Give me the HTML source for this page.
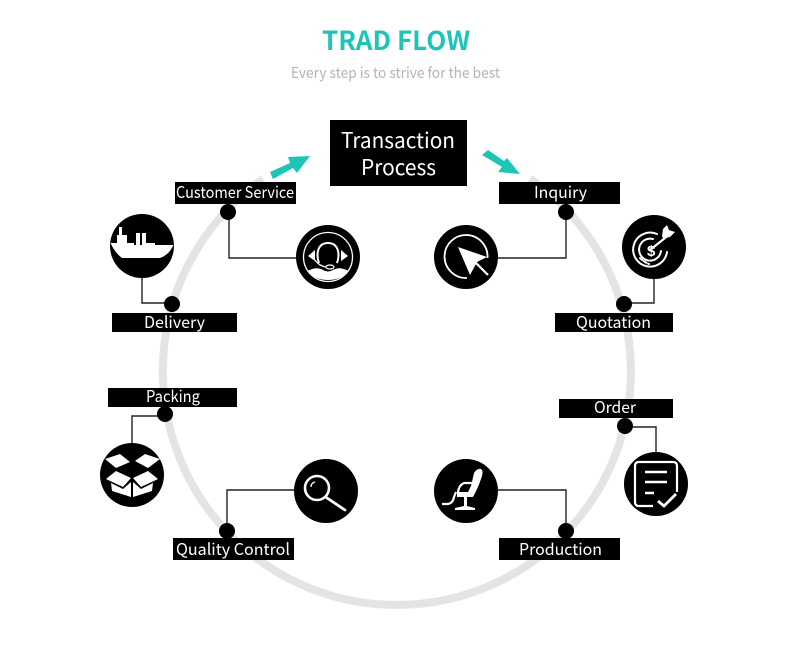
<!DOCTYPE html>
<html><head><meta charset="utf-8"><style>
html,body{margin:0;padding:0;background:#fff}
svg{display:block}
text{font-family:"Noto Sans CJK SC","Liberation Sans",sans-serif}
.l{fill:#fff;font-size:16px}
</style></head><body>
<svg width="800" height="672" viewBox="0 0 800 672" xmlns="http://www.w3.org/2000/svg">
<rect width="800" height="672" fill="#fff"/>
<text x="322" y="50" font-size="26" font-weight="700" fill="#1dc5b6" textLength="148" lengthAdjust="spacingAndGlyphs">TRAD FLOW</text>
<text x="291" y="78" font-size="15" fill="#b4b4b4" textLength="209" lengthAdjust="spacingAndGlyphs">Every step is to strive for the best</text>

<path d="M263 179 A234 234 0 1 0 530 178.500" fill="none" stroke="#e4e4e4" stroke-width="8"/>

<polygon points="270,172 290,163 288,157 310,156 297,173 293,168 273,179" fill="#1dc5b6"/>
<polygon points="488,150 504,161 507,158 520,174 498,172 502,167 482,155" fill="#1dc5b6"/>

<rect x="330" y="120" width="137" height="66" fill="#000"/>
<text x="341" y="148" font-size="21.500" fill="#fff" textLength="114" lengthAdjust="spacingAndGlyphs">Transaction</text>
<text x="361" y="175" font-size="21.500" fill="#fff" textLength="75" lengthAdjust="spacingAndGlyphs">Process</text>

<g fill="none" stroke="#222" stroke-width="1.400">
<path d="M229 212V258H297"/>
<path d="M142 278V303H172"/>
<path d="M566 212V258H498"/>
<path d="M654 279V303H624"/>
<path d="M165 416H132V443"/>
<path d="M294 490H227V531"/>
<path d="M566 531V490H498"/>
<path d="M625 427H656V452"/>
</g>

<g fill="#000">
<rect x="175" y="182" width="121" height="22"/>
<rect x="112" y="313" width="125" height="19"/>
<rect x="499" y="182" width="121" height="22"/>
<rect x="555" y="313" width="118" height="19"/>
<rect x="108" y="388" width="129" height="19"/>
<rect x="173" y="538" width="121" height="22"/>
<rect x="499" y="538" width="121" height="22"/>
<rect x="559" y="399" width="114" height="19"/>
<circle cx="228" cy="212" r="8"/>
<circle cx="172" cy="304" r="8"/>
<circle cx="566" cy="212" r="8"/>
<circle cx="624" cy="304" r="8"/>
<circle cx="165" cy="414" r="8"/>
<circle cx="227" cy="531" r="8"/>
<circle cx="566" cy="531" r="8"/>
<circle cx="625" cy="426" r="8"/>
</g>

<text class="l" x="176" y="198" textLength="118" lengthAdjust="spacingAndGlyphs">Customer Service</text>
<text class="l" x="144" y="328" textLength="61" lengthAdjust="spacingAndGlyphs">Delivery</text>
<text class="l" x="534" y="198" textLength="53" lengthAdjust="spacingAndGlyphs">Inquiry</text>
<text class="l" x="576" y="328" textLength="75" lengthAdjust="spacingAndGlyphs">Quotation</text>
<text class="l" x="146" y="402" textLength="54" lengthAdjust="spacingAndGlyphs">Packing</text>
<text class="l" x="176" y="555" textLength="114" lengthAdjust="spacingAndGlyphs">Quality Control</text>
<text class="l" x="519" y="555" textLength="83" lengthAdjust="spacingAndGlyphs">Production</text>
<text class="l" x="594" y="413" textLength="42" lengthAdjust="spacingAndGlyphs">Order</text>

<!-- ship -->
<g transform="translate(142,246)">
<circle r="32" fill="#000"/>
<path fill="#fff" d="M-31.500 -3L-25 -3V-11H-23V-19H-20V-11H-15V-3H-8V-1H-6V-13H-2V-1H0V-13H4V-3H13V-1H31.500Q27 9 18 12L-20 12Q-27 7 -31.500 -3Z"/>
</g>

<!-- headset -->
<g transform="translate(328,257)">
<circle r="32" fill="#000"/>
<circle r="24.500" fill="none" stroke="#fff" stroke-width="1.300"/>
<path fill="#fff" d="M-21 14Q-11 9 -5 13Q0 16 5 13Q11 9 21 14Q13 23 0 23Q-13 23 -21 14Z"/>
<path fill="none" stroke="#fff" stroke-width="2" d="M-9 6C-12 -2 -11 -14 0 -14C11 -14 12 -2 9 6"/>
<path fill="none" stroke="#fff" stroke-width="1.200" d="M-13 3Q-9 9 -2 10"/>
<ellipse cx="2" cy="10" rx="4" ry="2" fill="#000" stroke="#fff" stroke-width="1.200"/>
<path fill="#fff" d="M-13 -7L-13 4L-20 -1ZM13 -7L13 4L20 -1Z"/>
</g>

<!-- cursor -->
<g transform="translate(466,257)">
<circle r="32" fill="#000"/>
<path fill="none" stroke="#fff" stroke-width="1.800" d="M21.500 1A21.500 21.500 0 1 0 1 21"/>
<path fill="#fff" d="M-8 -10L21 0L11 5L4 18Z"/>
<path stroke="#fff" stroke-width="2.200" d="M10 6L22 18"/>
</g>

<!-- target -->
<g transform="translate(654,247)">
<circle r="32" fill="#000"/>
<g fill="none" stroke="#fff" stroke-width="2" stroke-linecap="round">
<path d="M3 -13A17 17 0 1 0 13 5"/>
<path d="M-1 -8A11 11 0 1 0 7 4"/>
<path d="M-14 11Q-10 15 -5 17" stroke-dasharray="3 2"/>
<path d="M-4 3L16 -13" stroke-width="2.200"/>
</g>
<path fill="#fff" d="M8 -11L9 -18L13 -22L15 -17L21 -15L16 -10L11 -9L10 -7Z"/>
<text x="-7" y="9" font-size="15" fill="#fff" font-weight="700" style="font-family:'Liberation Sans',sans-serif">$</text>
</g>

<!-- box -->
<g transform="translate(132,475)">
<circle r="32" fill="#000"/>
<path fill="#fff" d="M-27 -16L-12 -21L-2 -13L-16 -7ZM3 -14L13 -21L28 -16L16 -7ZM-26 4L-16 -4L-1 3L-9 12ZM26 4L16 -4L1 3L9 12Z"/>
<path fill="#fff" d="M-21 8L-9 14L-1 7V22L-20 16ZM21 8L9 14L1 7V22L20 16Z"/>
</g>

<!-- magnifier -->
<g transform="translate(326,491)">
<circle r="32" fill="#000"/>
<circle cx="-9" cy="-3" r="12" fill="none" stroke="#fff" stroke-width="2.600"/>
<path stroke="#fff" stroke-width="2.800" stroke-linecap="round" d="M1 7L19 19"/>
<path stroke="#fff" stroke-width="1.300" fill="none" d="M-15 -4Q-15 -8 -11 -9"/>
</g>

<!-- chair -->
<g transform="translate(466,491)">
<circle r="32" fill="#000"/>
<path fill="#fff" d="M8 -18Q11 -23 15 -22Q18 -20 15 -12Q12 -3 7 6L0 5L5 -5Z"/>
<path fill="none" stroke="#fff" stroke-width="2.200" d="M6 -8L-2 -8Q-7 -6 -8 1"/>
<path fill="#fff" d="M-9 1L5 1L6 6L-9 6Z"/>
<path fill="none" stroke="#fff" stroke-width="2.200" d="M-10 1L-12 6Q-13 12 -18 13L-24 13"/>
<path fill="#fff" d="M-2 6H1V15L9 17V19H-11V17L-2 15Z"/>
</g>

<!-- document -->
<g transform="translate(656,484)">
<circle r="32" fill="#000"/>
<path fill="none" stroke="#fff" stroke-width="2.200" d="M21 8V-18Q21 -22 17 -22H-17Q-21 -22 -21 -18V18Q-21 22 -17 22H-3"/>
<path stroke="#fff" stroke-width="2.500" d="M-11 -12H11M-11 -2H11M-11 9H-2"/>
<path fill="none" stroke="#fff" stroke-width="2.800" d="M2 17L8 22L20 10"/>
</g>
</svg>
</body></html>
